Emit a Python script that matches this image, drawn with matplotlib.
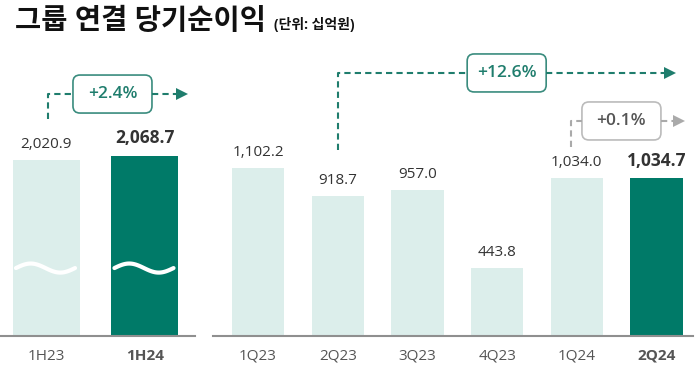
import matplotlib
matplotlib.use("Agg")
import matplotlib.pyplot as plt
import numpy as np
from matplotlib.patches import FancyBboxPatch

plt.rcParams['font.family'] = ['Open Sans', 'Noto Sans CJK KR', 'DejaVu Sans']

# data (십억원)
half_labels = ['1H23', '1H24']
half_values = [2020.9, 2068.7]
quarter_labels = ['1Q23', '2Q23', '3Q23', '4Q23', '1Q24', '2Q24']
quarter_values = [1102.2, 918.7, 957.0, 443.8, 1034.0, 1034.7]
growth_texts = ['+2.4%', '+12.6%', '+0.1%']

LIGHT = '#dceeeb'
DARK = '#007a68'
TEAL = '#1f7d6d'
GREY = '#aaaaaa'

W, H = 700, 373
fig = plt.figure(figsize=(7, 3.73), dpi=100)


def px_axes(x0, x1, y_bot, y_top):
    return fig.add_axes([x0 / W, (H - y_bot) / H, (x1 - x0) / W, (y_bot - y_top) / H])


def setup(ax, labels, values, ymax, xlim, width):
    x = np.arange(len(values))
    colors = [LIGHT] * (len(values) - 1) + [DARK]
    ax.bar(x, values, width=width, color=colors, zorder=2)
    ax.set_xlim(*xlim)
    ax.set_ylim(0, ymax)
    for s in ['left', 'right', 'top']:
        ax.spines[s].set_visible(False)
    ax.spines['bottom'].set_color('#8f8f8f')
    ax.spines['bottom'].set_linewidth(1.5)
    ax.set_yticks([])
    ax.set_xticks(x)
    ax.set_xticklabels(labels, fontsize=11, color='#555555')
    ax.get_xticklabels()[-1].set_fontweight('bold')
    ax.tick_params(axis='x', length=0, pad=9)
    ax.patch.set_visible(False)
    for i, v in enumerate(values):
        last = i == len(values) - 1
        ax.annotate(f'{v:,.1f}', (i, v), xytext=(0, 6), textcoords='offset points',
                    ha='center', va='bottom',
                    fontsize=12.5 if last else 11,
                    fontweight='bold' if last else 'normal', color='#333333')
    return x


ax1 = px_axes(0, 195, 336, 40)
setup(ax1, half_labels, half_values, 296 / 0.0871, (-0.472, 1.508), 0.68)

ax2 = px_axes(213, 693, 336, 40)
setup(ax2, quarter_labels, quarter_values, 296 / 0.1524, (-0.565, 5.458), 0.655)

# wavy break marks on half-year bars
t = np.linspace(0, 1, 60)
for i in range(len(half_values)):
    xs = i - 0.31 + 0.6 * t
    ys = 780 + 52 * np.sin(2 * np.pi * t)
    ax1.plot(xs, ys, color='white', lw=3, solid_capstyle='round', zorder=3)

# overlay in pixel coords for callouts
ov = fig.add_axes([0, 0, 1, 1])
ov.set_xlim(0, W)
ov.set_ylim(H, 0)
ov.axis('off')
ov.patch.set_visible(False)


def to_px(ax, x, y):
    dx, dy = ax.transData.transform((x, y))
    return dx, H - dy


def callout(ax, x0, y0, yline, xbox, xend, text, color, edge, tcolor):
    sx, sy = to_px(ax, x0, y0)
    _, ly = to_px(ax, x0, yline)
    bx, _ = to_px(ax, xbox, yline)
    ex, _ = to_px(ax, xend, yline)
    bw, bh = 79, 38
    ov.plot([sx, sx, bx - bw / 2], [sy, ly, ly], color=color, lw=1.5,
            ls=(0, (3, 2)))
    ov.plot([bx + bw / 2, ex - 6], [ly, ly], color=color, lw=1.5, ls=(0, (3, 2)))
    ov.plot([ex - 3], [ly], marker='>', color=color, markersize=8, mew=0)
    ov.add_patch(FancyBboxPatch((bx - bw / 2, ly - bh / 2), bw, bh,
                                boxstyle='round,pad=0,rounding_size=7',
                                fc='white', ec=edge, lw=1.2))
    ov.text(bx, ly, text, ha='center', va='center', fontsize=12.5,
            fontweight='semibold', color=tcolor)


callout(ax1, 0.015, 2491, 2778, 0.67, 1.41, growth_texts[0], TEAL, '#3a8c7e', TEAL)
callout(ax2, 1.0, 1220, 1726, 3.12, 5.21, growth_texts[1], TEAL, '#3a8c7e', TEAL)
callout(ax2, 3.93, 1240, 1411, 4.56, 5.32, growth_texts[2], GREY, '#bbbbbb', '#555555')

# title
fig.text(15 / W, 1 - 22 / H, '그룹 연결 당기순이익', fontsize=20.5, fontweight='bold',
         color='#111111', va='center', ha='left')
fig.text(274 / W, 1 - 25 / H, '(단위: 십억원)', fontsize=10, fontweight='bold',
         color='#111111', va='center', ha='left')

fig.savefig('out.png', dpi=100)
